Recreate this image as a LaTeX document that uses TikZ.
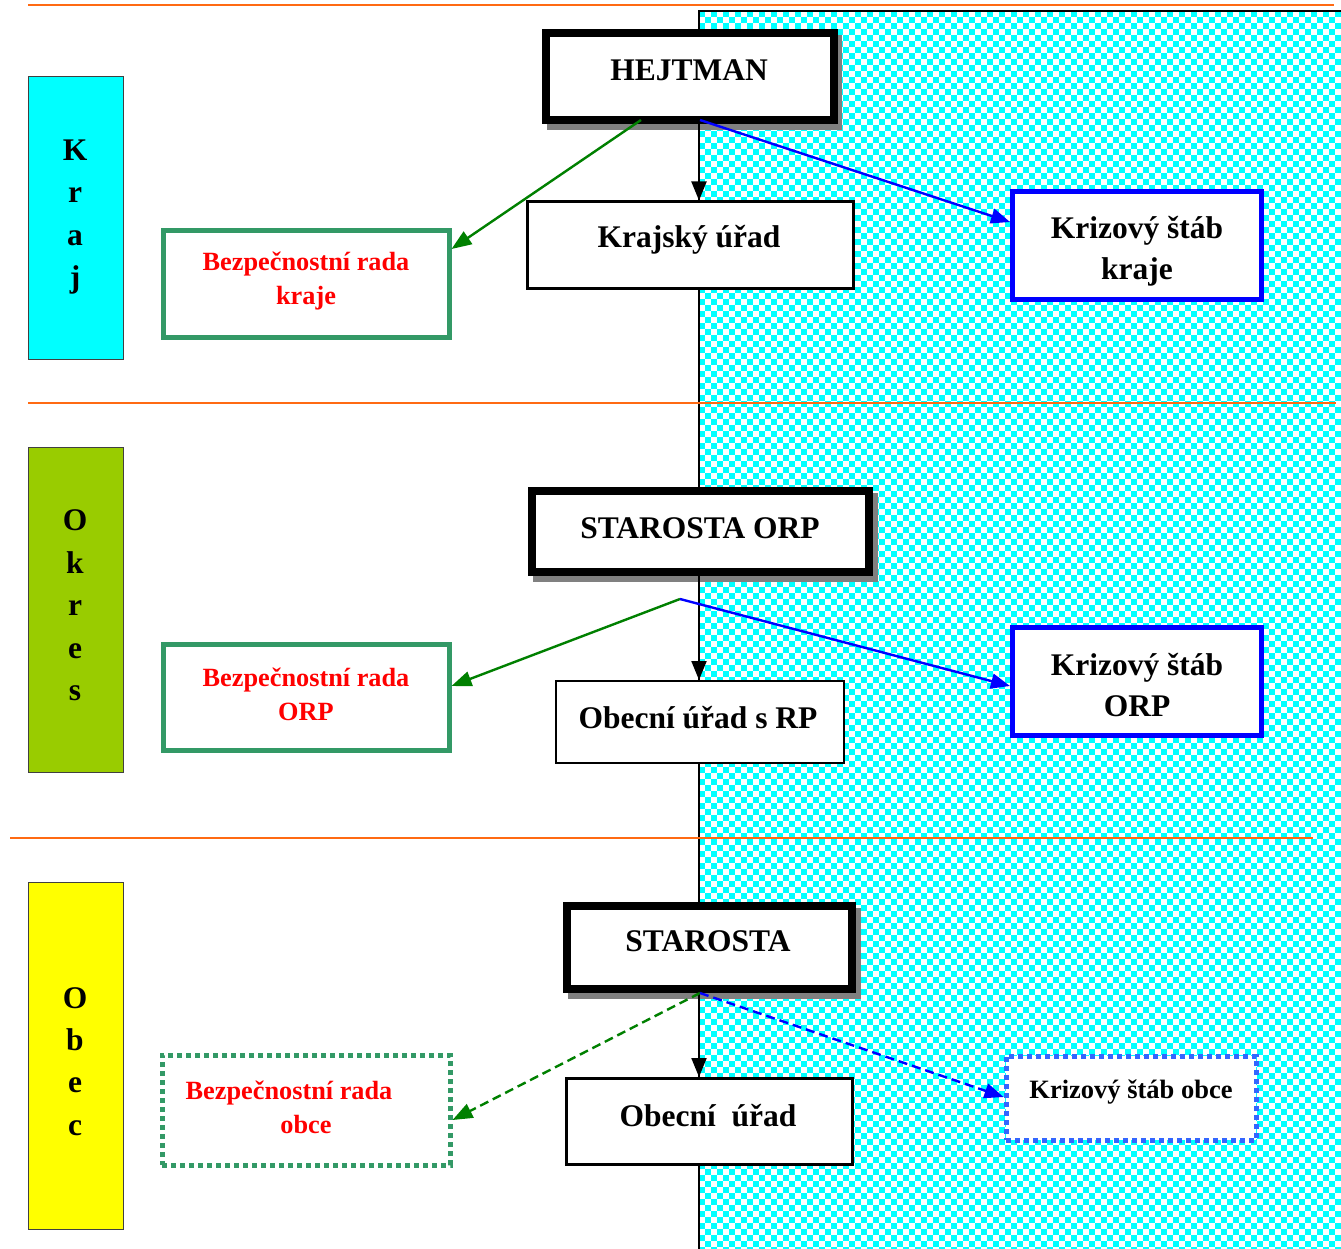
\documentclass[tikz,border=0pt]{standalone}
\usepackage{fontspec}
\setmainfont{Liberation Serif}
\usetikzlibrary{arrows.meta,calc}
\definecolor{orangeline}{HTML}{FF6A13}
\definecolor{chkcyan}{HTML}{00FFFF}
\definecolor{okresgreen}{HTML}{99CC00}
\definecolor{obecyellow}{HTML}{FFFF00}
\definecolor{boxgreen}{HTML}{339966}
\definecolor{arrgreen}{HTML}{008000}
\definecolor{arrblue}{HTML}{0000FF}
\definecolor{dotblue}{HTML}{3366FF}
\definecolor{shadowgray}{HTML}{808080}
\definecolor{textred}{HTML}{FF0000}
\tikzset{
  bigfont/.style={font=\fontsize{31.5}{41}\selectfont\bfseries},
  redfont/.style={font=\fontsize{26.3}{34}\selectfont\bfseries, text=textred},
  lefttxt/.style={font=\fontsize{31.5}{42.4}\selectfont\bfseries, align=center},
  levelbox/.style={draw=black!75, line width=1pt, minimum width=95, minimum height=#1, inner sep=0pt},
  headbox/.style={draw=black, line width=8pt, fill=white, inner sep=0pt},
  plainbox/.style={draw=black, fill=white, inner sep=0pt},
  rbox/.style={draw=boxgreen, line width=5pt, fill=white, inner sep=0pt, minimum width=286, minimum height=106},
  kbox/.style={draw=arrblue, line width=5pt, fill=white, inner sep=0pt, minimum width=249, minimum height=108},
  dotbox/.style={line width=5pt, dash pattern=on 5pt off 4pt, fill=white, inner sep=0pt},
  txt/.style={inner sep=0pt, align=center},
  blackarr/.style={draw=black, line width=2pt, -{Triangle[length=19pt,width=15pt]}},
  greenarr/.style={draw=arrgreen, line width=2.4pt, -{Triangle[length=20pt,width=15pt]}},
  bluearr/.style={draw=arrblue, line width=2.4pt, -{Triangle[length=19pt,width=15pt]}},
  orangerule/.style={draw=orangeline, line width=2.5pt},
  chk/.style={draw=chkcyan, line width=6pt, dash pattern=on 6pt off 6pt},
}
\begin{document}
\begin{tikzpicture}[x=1pt,y=-1pt]
\fill[white] (0,0) rectangle (1341,1249);
\useasboundingbox (0,0) rectangle (1341,1249);
% checkerboard region
\foreach \i in {0,2,...,106} {\draw[chk] (699+6*\i+3,11) -- (699+6*\i+3,1249);}
\foreach \i in {1,3,...,105} {\draw[chk] (699+6*\i+3,17) -- (699+6*\i+3,1249);}
\draw[line width=2pt] (699,1249) -- (699,11) -- (1341,11);
\coordinate (v) at (699,0);
% orange rules
\draw[orangerule] (28,5) -- (1334,5);
\draw[orangerule] (28,403) -- (1336,403);
\draw[orangerule] (10,838) -- (1313,838);
% level boxes
\node[levelbox=282, fill=chkcyan] (lkraj) at (75.5,218) {};
\node[levelbox=325, fill=okresgreen] (lokres) at (75.5,609.5) {};
\node[levelbox=347, fill=obecyellow] (lobec) at (75.5,1055.5) {};
\node[lefttxt, inner sep=0pt] (tkraj) at (75,217) {K\\r\\a\\j};
\node[lefttxt, inner sep=0pt] (tokres) at (75,605.5) {O\\k\\r\\e\\s};
\node[lefttxt, inner sep=0pt] (tobec) at (75,1061.5) {O\\b\\e\\c};
% shadows
\fill[shadowgray] (547,35) rectangle (842,130);
\fill[shadowgray] (533,493) rectangle (878,582);
\fill[shadowgray] (568,908) rectangle (861,999);
% KRAJ level
\node[headbox, minimum width=288, minimum height=87] (hej) at (690,76.5) {};
\node[txt, bigfont] (hejt) at (689,70) {HEJTMAN};
\node[plainbox, line width=3pt, minimum width=326, minimum height=87] (kuu) at (690,245.5) {};
\node[txt, bigfont] (kuut) at (689,240) {Krajský úřad};
\node[rbox] (brk) at (306,284) {};
\node[txt, redfont] (brkt) at (306,281) {Bezpečnostní rada\\kraje};
\node[kbox] (ksk) at (1137,245.5) {};
\node[txt, font=\fontsize{31.5}{41}\selectfont\bfseries] (kskt) at (1137,251) {Krizový štáb\\kraje};
\draw[blackarr] (hej.south -| v) -- (kuu.north -| v);
\draw[greenarr] ([xshift=-49pt,yshift=4pt]hej.south) -- ([yshift=35pt]brk.east);
\draw[bluearr] ([xshift=10pt,yshift=4pt]hej.south) -- ([yshift=23.5pt]ksk.west);
% OKRES level
\node[headbox, minimum width=337, minimum height=81] (sorp) at (700.5,531.5) {};
\node[txt, bigfont] (sorpt) at (700,528) {STAROSTA ORP};
\node[plainbox, line width=2pt, minimum width=288, minimum height=82] (our) at (700,722) {};
\node[txt, bigfont] (ourt) at (698,718) {Obecní úřad s RP};
\node[rbox] (bro) at (306,697) {};
\node[txt, redfont] (brot) at (306,694) {Bezpečnostní rada\\ORP};
\node[kbox] (kso) at (1137,681.5) {};
\node[txt, font=\fontsize{31.5}{41}\selectfont\bfseries] (ksot) at (1137,685) {Krizový štáb\\ORP};
\coordinate (jorp) at ([xshift=-20.5pt,yshift=-23pt]sorp.south);
\draw[blackarr] (sorp.south -| v) -- (our.north -| v);
\draw[greenarr] (jorp) -- ([yshift=11pt]bro.east);
\draw[bluearr] (jorp) -- ([yshift=-4.5pt]kso.west);
% OBEC level
\node[headbox, minimum width=285, minimum height=83] (sta) at (709.5,947.5) {};
\node[txt, bigfont] (stat) at (708,941) {STAROSTA};
\node[plainbox, line width=3pt, minimum width=286, minimum height=86] (ou) at (709,1121.5) {};
\node[txt, bigfont] (out) at (708,1116) {Obecní\ \ úřad};
\node[dotbox, draw=boxgreen, minimum width=288, minimum height=110] (brob) at (306,1110) {};
\node[txt, redfont] (brobt) at (306,1107) {Bezpečnostní rada\hspace*{34pt}\\obce};
\node[dotbox, draw=dotblue, minimum width=250, minimum height=84] (kob) at (1131,1098) {};
\node[txt, font=\fontsize{26.5}{34}\selectfont\bfseries] (kobt) at (1131,1092) {Krizový štáb obce};
\draw[blackarr] (sta.south -| v) -- (ou.north -| v);
\draw[greenarr, dash pattern=on 9pt off 5pt] ([xshift=-9.5pt]sta.south) -- ([yshift=-10pt]brob.east);
\draw[bluearr, dash pattern=on 9pt off 5pt] ([xshift=-9.5pt]sta.south) -- ([yshift=1pt]kob.west);
\end{tikzpicture}
\end{document}
